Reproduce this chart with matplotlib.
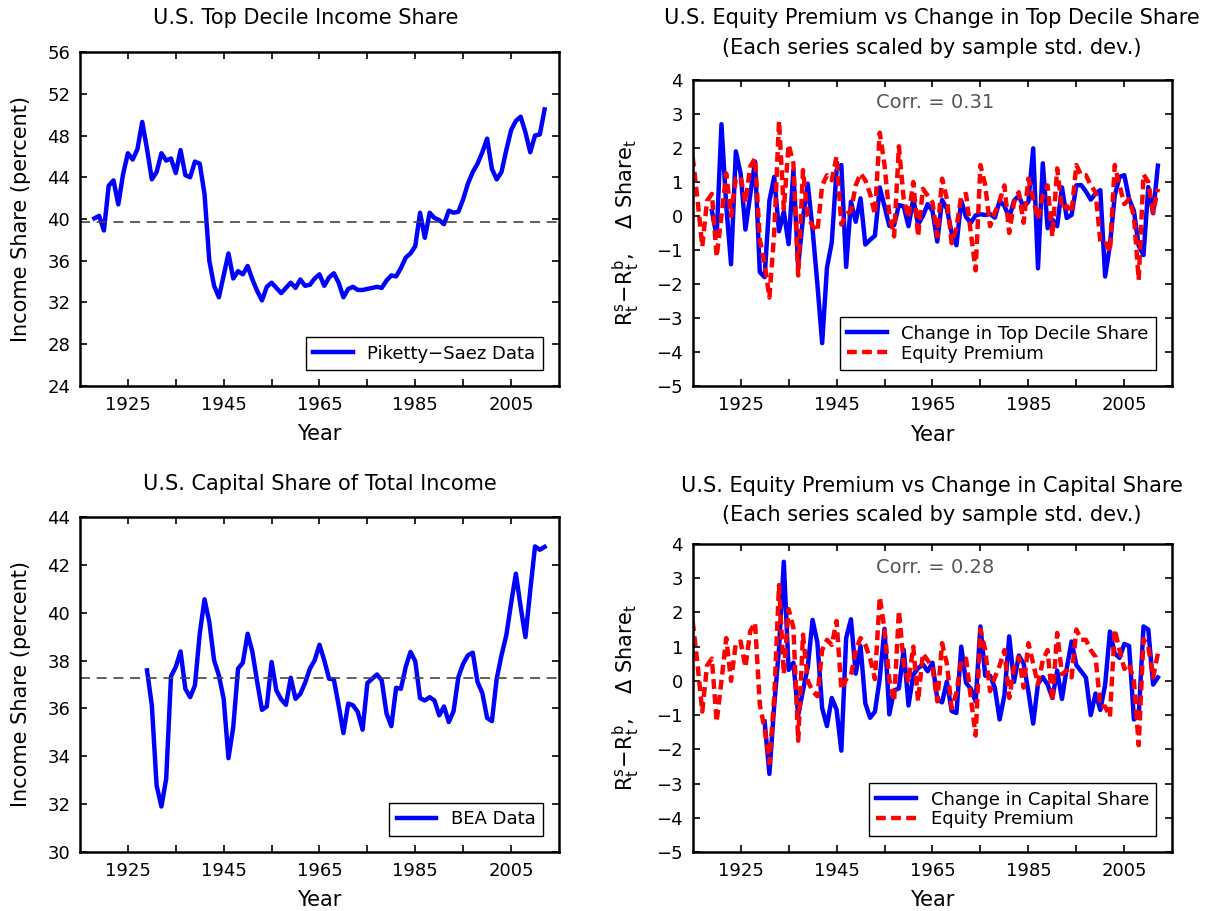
import numpy as np
import matplotlib
matplotlib.use("Agg")
import matplotlib.pyplot as plt

plt.rcParams['font.family'] = ['DejaVu Sans']
plt.rcParams['font.size'] = 13
plt.rcParams['axes.linewidth'] = 1.8
plt.rcParams['xtick.direction'] = 'in'
plt.rcParams['ytick.direction'] = 'in'
plt.rcParams['xtick.top'] = True
plt.rcParams['ytick.right'] = True
plt.rcParams['xtick.major.size'] = 5
plt.rcParams['ytick.major.size'] = 5
plt.rcParams['xtick.major.width'] = 1.2
plt.rcParams['ytick.major.width'] = 1.2
plt.rcParams['xtick.major.pad'] = 7
plt.rcParams['ytick.major.pad'] = 7

# top decile income share (Piketty-Saez), 1918-2012
top_years = np.arange(1918, 2013)
top_share = [40.06, 40.3, 38.9, 43.2, 43.7, 41.4, 44.3, 46.3, 45.7, 46.7,
             49.3, 46.7, 43.8, 44.5, 46.3, 45.6, 45.8, 44.4, 46.6, 44.2,
             44.0, 45.5, 45.3, 42.4, 36.0, 33.6, 32.5, 34.6, 36.7, 34.3,
             35.0, 34.7, 35.5, 34.2, 33.1, 32.2, 33.5, 33.9, 33.4, 32.9,
             33.4, 33.9, 33.4, 34.2, 33.6, 33.7, 34.3, 34.7, 33.6, 34.4,
             34.8, 33.9, 32.5, 33.3, 33.5, 33.2, 33.2, 33.3, 33.4, 33.5,
             33.4, 34.1, 34.6, 34.5, 35.3, 36.3, 36.7, 37.4, 40.6, 38.2,
             40.6, 40.1, 39.9, 39.5, 40.8, 40.6, 40.7, 41.9, 43.4, 44.5,
             45.3, 46.4, 47.7, 44.8, 43.8, 44.5, 46.6, 48.5, 49.4, 49.8,
             48.3, 46.4, 48.0, 48.1, 50.5]
top_mean = 39.7

# capital share of total income (BEA), 1929-2012
cap_years = np.arange(1929, 2013)
cap_share = [37.59, 36.13, 32.78, 31.90, 33.06, 37.34, 37.73, 38.38, 36.82, 36.47,
             36.96, 39.12, 40.56, 39.61, 38.01, 37.38, 36.40, 33.92, 35.22, 37.66,
             37.91, 39.12, 38.36, 37.10, 35.94, 36.08, 37.94, 36.75, 36.38, 36.15,
             37.28, 36.40, 36.61, 37.07, 37.66, 38.01, 38.66, 38.01, 37.24, 37.21,
             36.13, 34.97, 36.20, 36.13, 35.85, 35.11, 37.06, 37.24, 37.42, 37.17,
             35.78, 35.26, 36.86, 36.82, 37.73, 38.36, 37.97, 36.43, 36.33, 36.47,
             36.33, 35.71, 36.08, 35.43, 35.89, 37.31, 37.87, 38.22, 38.33, 37.10,
             36.64, 35.60, 35.47, 37.24, 38.22, 39.05, 40.38, 41.63, 40.24, 38.98,
             40.93, 42.77, 42.63, 42.75]
cap_mean = 37.27

# equity premium (scaled), 1915-2012
ep_years = np.arange(1915, 2013)
equity_prem = [1.74, 0.5, -0.9, 0.45, 0.65, -1.2, 0.0, 1.25, 0.0, 1.1,
               1.15, 0.4, 1.45, 1.7, -0.7, -1.4, -2.4, -0.5, 2.8, 0.2,
               2.1, 1.55, -1.75, 1.35, 0.0, -0.3, -0.45, 0.9, 1.2, 1.05,
               1.75, -0.25, 0.05, 0.15, 0.9, 1.25, 1.05, 0.65, 0.05, 2.45,
               1.5, 0.05, -0.6, 2.05, 0.5, -0.05, 1.0, -0.6, 0.8, 0.6,
               0.4, -0.6, 1.1, 0.5, -0.8, -0.35, 0.6, 0.65, -0.5, -1.6,
               1.5, 0.9, -0.3, 0.1, 0.45, 0.9, -0.5, 0.4, 0.7, -0.2,
               1.1, 0.5, -0.1, 0.6, 0.9, -0.6, 1.4, 0.2, 0.3, 0.1,
               1.5, 1.2, 1.2, 0.9, 0.7, -0.75, -0.75, -1.05, 1.5, 0.9,
               0.35, 0.5, 0.0, -1.88, 1.22, 1.0, 0.1, 0.8]

# change in top decile share (scaled), 1919-2012
dtop_years = np.arange(1919, 2013)
dtop = [0.15, -0.6, 2.7, 0.3, -1.42, 1.9, 1.25, -0.4, 0.62, 1.6,
        -1.65, -1.8, 0.45, 1.15, -0.45, 0.13, -0.83, 1.35, -1.48, -0.05,
        0.95, -0.4, -2.0, -3.74, -1.52, -0.78, 1.35, 1.5, -1.5, 0.42,
        -0.17, 0.52, -0.84, -0.7, -0.58, 0.84, 0.28, -0.29, -0.27, 0.32,
        0.28, -0.3, 0.5, -0.25, 0.0, 0.35, 0.15, -0.75, 0.47, 0.22,
        -0.5, -0.86, 0.45, -0.03, -0.2, 0.02, 0.05, 0.03, 0.06, -0.05,
        0.44, 0.3, -0.05, 0.45, 0.6, 0.25, 0.42, 1.99, -1.54, 1.55,
        -0.36, -0.1, -0.3, 0.84, -0.06, 0.03, 0.9, 0.91, 0.72, 0.48,
        0.66, 0.76, -1.78, -0.85, 0.6, 1.15, 1.2, 0.5, 0.15, -0.88,
        -1.15, 0.85, 0.08, 1.48]

# change in capital share (scaled), 1930-2012
dcap_years = np.arange(1930, 2013)
dcap = [-1.19, -2.72, -0.72, 0.94, 3.48, 0.32, 0.53, -1.0, -0.28, 0.40,
        1.78, 1.12, -0.8, -1.32, -0.5, -0.84, -2.04, 1.25, 1.8, 0.21,
        1.02, -0.66, -1.08, -0.9, 0.06, 1.52, -0.98, -0.28, -0.22, 0.91,
        -0.72, 0.18, 0.37, 0.48, 0.28, 0.53, -0.53, -0.63, -0.02, -0.88,
        -0.94, 1.00, -0.06, -0.23, -0.60, 1.59, 0.15, 0.15, -0.20, -1.13,
        -0.42, 1.30, -0.03, 0.74, 0.51, -0.32, -1.25, -0.08, 0.11, -0.11,
        -0.50, 0.30, -0.53, 0.37, 1.15, 0.46, 0.28, 0.09, -1.00, -0.37,
        -0.85, -0.11, 1.44, 0.80, 0.67, 1.08, 1.02, -1.13, -1.02, 1.59,
        1.50, -0.11, 0.10]

blue = '#0000ff'
red = '#ff0000'
xt = np.arange(1925, 2006, 10)
xtl = [str(y) if (y - 1925) % 20 == 0 else '' for y in xt]
lab_fs = 15
title_fs = 15

fig = plt.figure(figsize=(12.21, 9.11), dpi=100)

ax1 = fig.add_axes([0.0655, 0.5763, 0.3923, 0.3666])
ax2 = fig.add_axes([0.5673, 0.5763, 0.3928, 0.3359])
ax3 = fig.add_axes([0.0655, 0.0648, 0.3923, 0.3677])
ax4 = fig.add_axes([0.5673, 0.0648, 0.3928, 0.3381])

# top-left
ax1.plot(top_years, top_share, color=blue, lw=3.2, label='Piketty\u2212Saez Data')
ax1.axhline(top_mean, color='#444444', lw=1.2, ls=(0, (6, 4)))
ax1.set_xlim(1915, 2015)
ax1.set_ylim(24, 56)
ax1.set_yticks(np.arange(24, 57, 4))
ax1.set_ylabel('Income Share (percent)', fontsize=lab_fs)
ax1.yaxis.set_label_coords(-0.102, 0.5)
ax1.legend(loc='lower right', fancybox=False, edgecolor='black', handlelength=2.2,
           borderaxespad=0.9, framealpha=1)

# bottom-left
ax3.plot(cap_years, cap_share, color=blue, lw=3.2, label='BEA Data')
ax3.axhline(cap_mean, color='#444444', lw=1.2, ls=(0, (6, 4)))
ax3.set_xlim(1915, 2015)
ax3.set_ylim(30, 44)
ax3.set_yticks(np.arange(30, 45, 2))
ax3.set_ylabel('Income Share (percent)', fontsize=lab_fs)
ax3.yaxis.set_label_coords(-0.102, 0.5)
ax3.legend(loc='lower right', fancybox=False, edgecolor='black', handlelength=2.2,
           borderaxespad=0.9, framealpha=1)

# right panels
for ax, dser, dyrs, lab, corr in [(ax2, dtop, dtop_years, 'Change in Top Decile Share', '0.31'),
                                   (ax4, dcap, dcap_years, 'Change in Capital Share', '0.28')]:
    ax.plot(dyrs, dser, color=blue, lw=3.2, label=lab)
    ax.plot(ep_years, equity_prem, color=red, lw=3.2, ls=(0, (2.2, 1.2)), label='Equity Premium')
    ax.set_xlim(1915, 2015)
    ax.set_ylim(-5, 4)
    ax.set_yticks(np.arange(-5, 5, 1))
    ax.set_ylabel(r'$\mathregular{R_t^s\!-\!R_t^b,\ \ \ \Delta\ Share_t}$', fontsize=lab_fs)
    ax.yaxis.set_label_coords(-0.106, 0.5)
    ax.text(0.505, 0.925, 'Corr. = ' + corr, transform=ax.transAxes, ha='center',
            va='center', color='#555555', fontsize=14)
    ax.legend(loc='lower right', fancybox=False, edgecolor='black', handlelength=2.2,
              borderaxespad=0.9, framealpha=1, labelspacing=0.1)

for ax in [ax1, ax2, ax3, ax4]:
    ax.set_xticks(xt)
    ax.set_xticklabels(xtl)
    ax.set_xlabel('Year', fontsize=lab_fs)
ax1.xaxis.set_label_coords(0.5, -0.114)
ax3.xaxis.set_label_coords(0.5, -0.113)
ax2.xaxis.set_label_coords(0.5, -0.127)
ax4.xaxis.set_label_coords(0.5, -0.123)

fig.text(0.2506, 0.9802, 'U.S. Top Decile Income Share', ha='center', va='center', fontsize=title_fs)
fig.text(0.7633, 0.9802, 'U.S. Equity Premium vs Change in Top Decile Share', ha='center', va='center', fontsize=title_fs)
fig.text(0.7633, 0.9473, '(Each series scaled by sample std. dev.)', ha='center', va='center', fontsize=title_fs)
fig.text(0.262, 0.4687, 'U.S. Capital Share of Total Income', ha='center', va='center', fontsize=title_fs)
fig.text(0.7633, 0.4665, 'U.S. Equity Premium vs Change in Capital Share', ha='center', va='center', fontsize=title_fs)
fig.text(0.7633, 0.4347, '(Each series scaled by sample std. dev.)', ha='center', va='center', fontsize=title_fs)

fig.savefig('out.png', dpi=100)
